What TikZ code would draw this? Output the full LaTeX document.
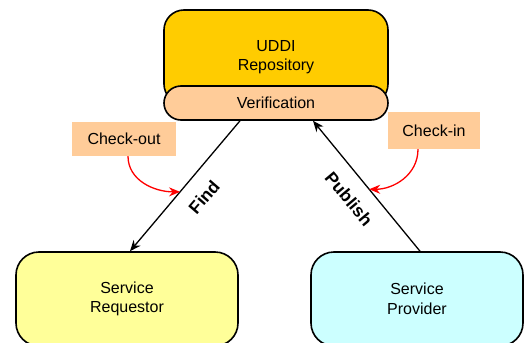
\documentclass[tikz,border=0pt]{standalone}
\usepackage{fontspec}
\setmainfont{Liberation Sans}
\usetikzlibrary{arrows.meta}
\definecolor{gold}{HTML}{FFCC00}
\definecolor{peach}{HTML}{FFCC99}
\definecolor{paleyellow}{HTML}{FFFF99}
\definecolor{palecyan}{HTML}{CCFFFF}
\tikzset{
  txt/.style={font=\fontsize{16}{19.5}\selectfont},
  box/.style={txt, draw=black, line width=1.6pt, align=center, inner sep=0pt},
  tag/.style={txt, fill=peach, align=center},
  flow/.style={draw=black, line width=1.3pt, -{Stealth[length=11pt,width=9pt]}},
  hint/.style={draw=red, line width=1.3pt, -{Stealth[length=11pt,width=9pt]}},
  verb/.style={font=\bfseries\fontsize{17.5}{21}\selectfont, inner sep=0pt},
}
\begin{document}
\begin{tikzpicture}[x=1pt,y=-1pt]
\useasboundingbox (0,0) rectangle (528,343);
\clip (0,0) rectangle (528,343);

% repository with its verification band
\node[box, fill=gold, rounded corners=20pt, minimum width=224pt, minimum height=94pt]
      (repo) at (276,57) {UDDI\\Repository};
\node[box, fill=peach, rounded corners=17pt, minimum width=224pt, minimum height=34pt]
      (verif) at (276,103) {Verification};

% requestor and provider
\node[box, fill=paleyellow, rounded corners=23pt, minimum width=222pt, minimum height=94pt]
      (req) at (127,299) {Service\\Requestor};
\node[box, fill=palecyan, rounded corners=23pt, minimum width=212pt, minimum height=94pt]
      (prov) at (417,299) {Service\\Provider};

% check-out / check-in tags
\node[tag, minimum width=104pt, minimum height=34pt] (checkout) at (124,139) {Check-out};
\node[tag, minimum width=92pt, minimum height=37pt] (checkin) at (434,130.5) {Check-in};

% find and publish flows
\draw[flow] ([xshift=-36pt]verif.south) -- coordinate[pos=0.545] (findmid) ([xshift=3pt]req.north);
\draw[flow] ([xshift=3pt]prov.north) -- coordinate[pos=0.475] (pubmid) ([xshift=37pt]verif.south);

\node[verb, rotate=49] (find) at (204,197) {Find};
\node[verb, rotate=-50] (publish) at (349,199) {Publish};

% tag hints
\draw[hint] ([xshift=4pt]checkout.south) .. controls +(0,24) and +(-26,0) .. (findmid);
\draw[hint] ([xshift=-16pt]checkin.south) .. controls +(0,26) and +(24,0) .. (pubmid);
\end{tikzpicture}
\end{document}
